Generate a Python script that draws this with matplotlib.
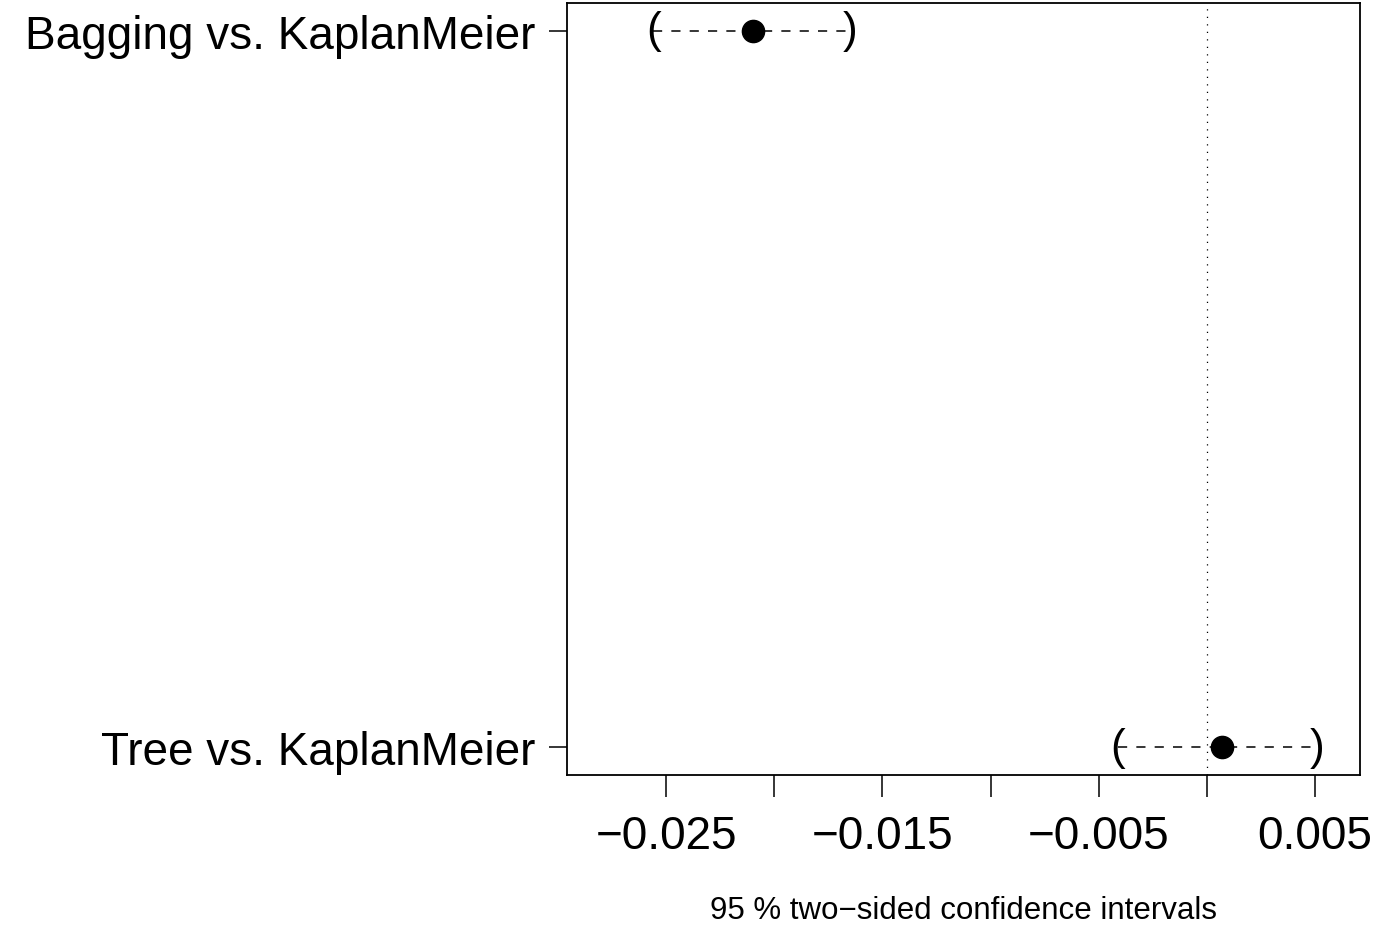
import matplotlib
matplotlib.use("Agg")
import matplotlib.pyplot as plt

plt.rcParams['font.family'] = ['Liberation Sans', 'DejaVu Sans']

# simultaneous confidence intervals
comparisons = ["Tree vs. KaplanMeier", "Bagging vs. KaplanMeier"]
estimate = [0.0007, -0.0210]
lower = [-0.0041, -0.0256]
upper = [0.0051, -0.0165]

ticks = [-0.025, -0.020, -0.015, -0.010, -0.005, 0.000, 0.005]
tick_labels = ["\u22120.025", "", "\u22120.015", "", "\u22120.005", "", "0.005"]

fig = plt.figure(figsize=(13.77, 9.29), dpi=100)
ax = fig.add_axes([567 / 1377, 1 - 776 / 929, (1360 - 567) / 1377, (776 - 4) / 929])

ax.axvline(0, color="black", lw=0.9, ls=(0, (1, 5)))

ypos = range(1, len(comparisons) + 1)
for y, est, lo, hi in zip(ypos, estimate, lower, upper):
    ax.plot([lo, hi], [y, y], color="black", lw=1.1, ls=(0, (6, 6)))
    ax.text(lo, y, "(", ha="center", va="center", fontsize=32)
    ax.text(hi, y, ")", ha="center", va="center", fontsize=32)
    ax.plot(est, y, "o", color="black", markersize=16)

ax.set_xlim(-0.0296, 0.0071)
ax.set_ylim(0.961, 2.039)
ax.set_xticks(ticks)
ax.set_xticklabels(tick_labels, fontsize=33)
ax.set_yticks(list(ypos))
ax.set_yticklabels(comparisons, fontsize=33)
ax.tick_params(axis="x", length=16, width=1.1, pad=12)
ax.tick_params(axis="y", length=13, width=1.1, pad=10)
for s in ax.spines.values():
    s.set_linewidth(1.3)

fig.text((712 + 1215) / 2 / 1377, 1 - 911 / 929, "95 % two\u2212sided confidence intervals",
         ha="center", va="center", fontsize=22.5)

fig.savefig("out.png", dpi=100)
